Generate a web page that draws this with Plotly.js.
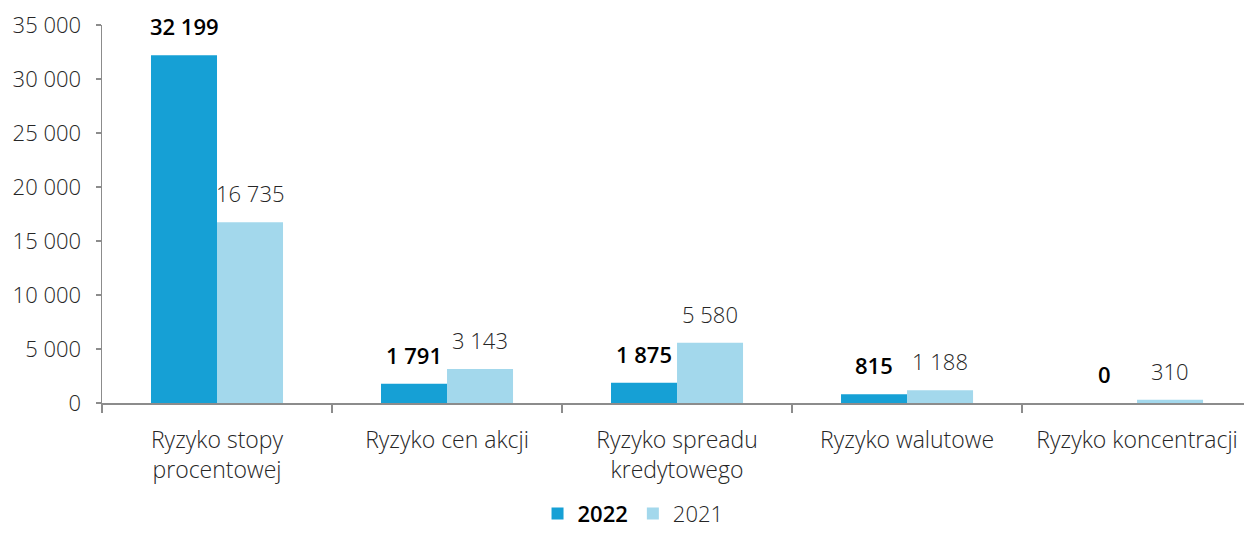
<!DOCTYPE html>
<html><head><meta charset="utf-8">
<script src="https://cdn.plot.ly/plotly-3.0.1.min.js"></script>
<style>body{margin:0;padding:0;background:#fff}#chart{width:1244px;height:535px}</style>
</head><body><div id="chart"></div>
<script>
const categories = ["Ryzyko stopy<br>procentowej", "Ryzyko cen akcji", "Ryzyko spreadu<br>kredytowego", "Ryzyko walutowe", "Ryzyko koncentracji"];
const values2022 = [32199, 1791, 1875, 815, 0];
const values2021 = [16735, 3143, 5580, 1188, 310];
const yTicks = [0, 5000, 10000, 15000, 20000, 25000, 30000, 35000];

function fmt(v){ return String(v).replace(/\B(?=(\d{3})+(?!\d))/g, ' '); }

const FONT = '"Open Sans", Lato, sans-serif';
const C22 = '#16a0d5', C21 = '#a3d8ec';
const TXT = '#262626';

const traces = [
  {type:'bar', name:'<span style="font-weight:600;color:#000">2022</span>', x:categories, y:values2022, marker:{color:C22}, hoverinfo:'none'},
  {type:'bar', name:'2021', x:categories, y:values2021, marker:{color:C21}, hoverinfo:'none'}
];

const annotations = [];
categories.forEach((c,i)=>{
  annotations.push({x:c, y:values2022[i], xref:'x', yref:'y', xshift:-33, yshift:12, yanchor:'bottom',
    text:fmt(values2022[i]), showarrow:false, font:{family:FONT, size:22, color:'#000', weight:600}});
  annotations.push({x:c, y:values2021[i], xref:'x', yref:'y', xshift:33, yshift:12, yanchor:'bottom',
    text:fmt(values2021[i]), showarrow:false, font:{family:FONT, size:22, color:TXT, weight:300}});
});

const layout = {
  width:1244, height:535,
  margin:{l:102, r:0, t:25, b:132},
  paper_bgcolor:'#fff', plot_bgcolor:'#fff',
  font:{family:FONT, size:22, color:TXT, weight:300},
  barmode:'group', bargap:0.426, bargroupgap:0,
  xaxis:{type:'category', range:[-0.5, 4.465], showline:true, linecolor:'#8c8c8c', linewidth:1.5,
    ticks:'outside', tickson:'boundaries', ticklen:8, tickcolor:'#8c8c8c', tickwidth:1.5,
    showgrid:false, zeroline:false, tickfont:{family:FONT, size:23, color:TXT, weight:300},
    ticklabelstandoff:16, automargin:false},
  yaxis:{range:[0,35000], tickvals:yTicks, ticktext:yTicks.map(fmt), showline:true, linecolor:'#8c8c8c', linewidth:1.5,
    ticks:'outside', ticklen:5, tickcolor:'#8c8c8c', tickwidth:1.5, showgrid:false, zeroline:false,
    tickfont:{family:FONT, size:22, color:TXT, weight:300}, ticklabelstandoff:10, automargin:false},
  showlegend:true,
  legend:{orientation:'h', x:0.465, xanchor:'center', yref:'container', y:0.04, yanchor:'middle',
    font:{family:FONT, size:22, color:TXT, weight:300}, itemwidth:30, traceorder:'normal'},
  annotations:annotations
};
Plotly.newPlot('chart', traces, layout, {staticPlot:true, displayModeBar:false});
</script></body></html>
